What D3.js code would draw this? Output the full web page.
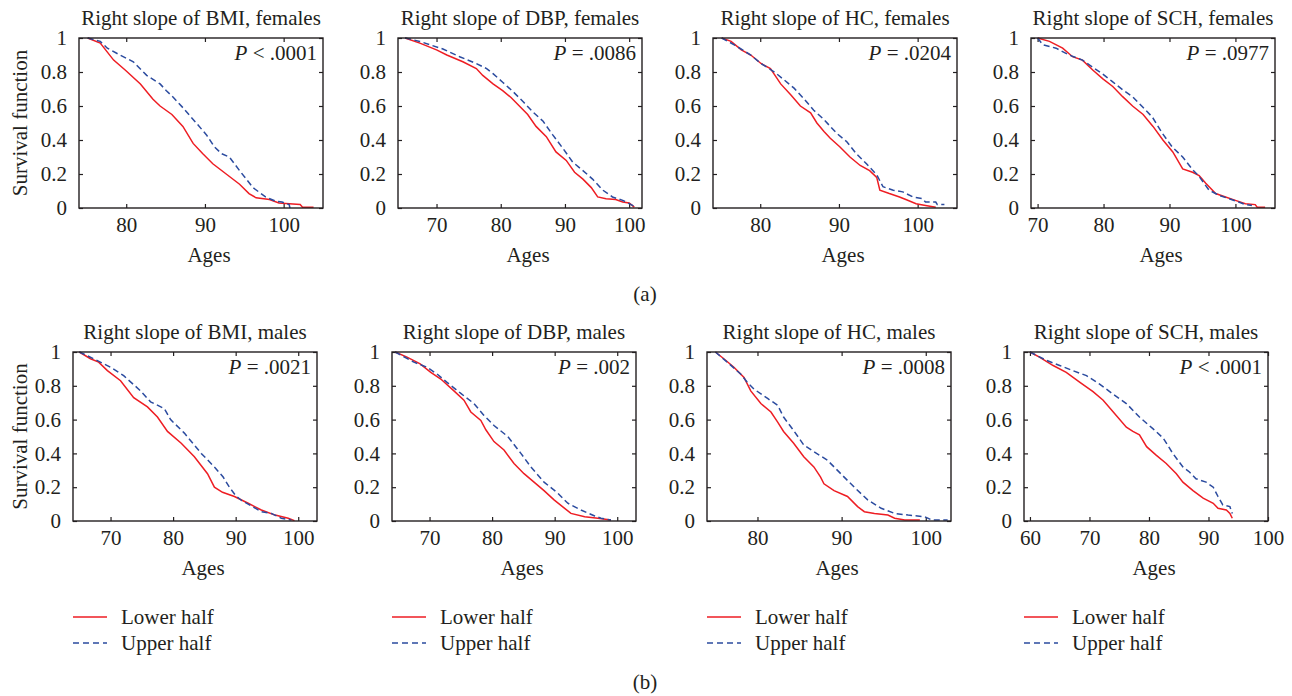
<!DOCTYPE html>
<html>
<head>
<meta http-equiv="Content-Type" content="text/html; charset=UTF-8">
<style>
body { margin: 0; background: #fff; }
text { font-family: "Liberation Serif", "Times New Roman", serif; fill: #231f20; }
</style>
</head>
<body>

<div class="container"></div>

<script src="https://cdn.jsdelivr.net/npm/d3@7/dist/d3.min.js"></script>
<script>

// Kaplan-Meier curves, [age, survival]
var bmiFemalesLower = [[75.1,1],[76.7,0.97],[78.4,0.87],[79.9,0.81],[81.8,0.73],[83.4,0.64],[84.3,0.6],[85.8,0.55],[87.2,0.48],[88.5,0.38],[89.7,0.32],[91.0,0.26],[92.7,0.2],[94.4,0.14],[95.6,0.085],[96.5,0.06],[98.2,0.05],[99.4,0.03],[100.7,0.025],[102.1,0.02],[102.4,0.005],[103.8,0.005]];
var bmiFemalesUpper = [[75.1,1],[76.7,0.98],[77.6,0.94],[79.2,0.9],[80.9,0.86],[82.6,0.78],[84.3,0.73],[85.1,0.69],[86.0,0.65],[87.2,0.59],[88.9,0.5],[90.2,0.43],[91.2,0.36],[92.1,0.32],[93.1,0.3],[94.4,0.22],[96.1,0.12],[97.7,0.065],[99.0,0.04],[99.8,0.035],[100.7,0.02],[100.8,0]];

var dbpFemalesLower = [[65.1,1],[67.4,0.97],[70.0,0.93],[71.6,0.9],[74.1,0.86],[76.2,0.82],[77.2,0.78],[78.8,0.73],[80.3,0.69],[81.6,0.65],[82.9,0.6],[84.2,0.55],[85.5,0.48],[87.1,0.42],[88.6,0.33],[90.2,0.28],[91.5,0.21],[92.8,0.17],[94.1,0.12],[95.1,0.065],[96.4,0.055],[97.9,0.05],[99.0,0.035],[100.0,0.03],[100.8,0.005]];
var dbpFemalesUpper = [[65.1,1],[67.4,0.98],[71.0,0.935],[73.6,0.89],[76.2,0.85],[77.8,0.82],[78.8,0.79],[80.3,0.74],[81.9,0.685],[83.5,0.625],[85.0,0.565],[86.6,0.51],[88.1,0.43],[89.7,0.35],[91.2,0.27],[92.8,0.22],[94.3,0.17],[95.9,0.105],[97.4,0.065],[99.0,0.045],[100.3,0.02],[101.0,0.005]];

var hcFemalesLower = [[75.1,1],[76.3,0.98],[77.6,0.93],[78.8,0.9],[80.1,0.85],[81.3,0.82],[82.6,0.73],[83.9,0.665],[85.1,0.6],[86.4,0.56],[87.2,0.5],[88.1,0.45],[88.9,0.41],[90.1,0.36],[91.4,0.3],[92.7,0.25],[93.9,0.22],[94.8,0.18],[95.2,0.105],[96.4,0.085],[97.7,0.065],[98.5,0.05],[99.8,0.025],[101.0,0.015],[102.3,0.005]];
var hcFemalesUpper = [[75.1,1],[76.7,0.96],[78.8,0.9],[80.1,0.85],[81.8,0.8],[83.0,0.755],[84.3,0.705],[85.5,0.645],[86.8,0.575],[88.1,0.52],[89.7,0.44],[91.0,0.39],[92.2,0.32],[93.5,0.26],[94.8,0.195],[95.6,0.125],[96.9,0.105],[98.1,0.095],[99.4,0.065],[100.6,0.055],[101.0,0.035],[102.3,0.035],[102.5,0.02],[103.4,0.02]];

var schFemalesLower = [[70,1],[71.8,0.98],[73.8,0.94],[75.3,0.89],[76.8,0.87],[78.4,0.81],[79.9,0.76],[81.4,0.715],[82.9,0.655],[84.4,0.6],[86.0,0.55],[87.5,0.48],[89.0,0.4],[90.5,0.33],[92.0,0.23],[93.5,0.21],[94.5,0.19],[95.5,0.145],[97.0,0.085],[98.5,0.065],[100.0,0.045],[101.5,0.025],[103.0,0.02],[103.3,0.005],[104.5,0.005]];
var schFemalesUpper = [[70,1],[70.8,0.96],[72.8,0.94],[74.8,0.9],[76.8,0.87],[78.3,0.83],[79.8,0.79],[81.3,0.745],[82.9,0.695],[84.4,0.655],[85.9,0.595],[87.4,0.535],[88.9,0.44],[90.4,0.36],[92.0,0.3],[93.4,0.23],[94.5,0.185],[96.0,0.105],[97.5,0.075],[99.0,0.055],[100.5,0.035],[101.5,0.02],[102.5,0.015]];

var bmiMalesLower = [[65,1],[66.8,0.96],[68.1,0.94],[69.5,0.89],[71.6,0.83],[73.7,0.73],[75.9,0.675],[77.5,0.615],[79.1,0.53],[81.3,0.46],[83.4,0.38],[85.5,0.28],[86.6,0.2],[87.9,0.17],[89.8,0.145],[92.0,0.105],[94.1,0.065],[96.3,0.035],[98.4,0.016],[99.4,0.002]];
var bmiMalesUpper = [[65,1],[67.3,0.96],[70.0,0.91],[72.1,0.86],[74.8,0.77],[76.4,0.705],[78.6,0.665],[79.6,0.6],[81.8,0.52],[84.5,0.4],[86.6,0.32],[88.0,0.26],[89.0,0.2],[90.0,0.15],[91.0,0.12],[92.0,0.1],[94.1,0.055],[95.7,0.045],[97.3,0.016],[98.9,0.006]];

var dbpMalesLower = [[64.5,1],[66.4,0.97],[68.5,0.93],[70.2,0.88],[71.8,0.84],[73.9,0.77],[75.5,0.715],[76.6,0.645],[78.2,0.595],[79.0,0.54],[80.3,0.47],[81.9,0.42],[83.5,0.34],[85.1,0.28],[86.7,0.23],[88.3,0.18],[89.9,0.125],[91.6,0.075],[92.6,0.045],[94.8,0.025],[96.9,0.016],[99.0,0.006]];
var dbpMalesUpper = [[64.5,1],[67.5,0.94],[69.6,0.91],[71.2,0.87],[72.8,0.82],[75.0,0.755],[77.1,0.695],[78.7,0.625],[80.3,0.565],[82.5,0.5],[84.6,0.4],[86.2,0.32],[88.3,0.23],[90.5,0.165],[92.1,0.105],[94.2,0.065],[96.4,0.03],[97.4,0.016],[99.0,0.006]];

var hcMalesLower = [[75.0,1],[76.0,0.96],[77.2,0.91],[78.4,0.85],[79.2,0.77],[80.4,0.695],[81.6,0.645],[82.4,0.585],[83.1,0.53],[84.3,0.46],[85.5,0.38],[86.7,0.32],[87.5,0.26],[87.9,0.22],[89.1,0.18],[90.7,0.145],[91.9,0.085],[92.7,0.055],[93.9,0.045],[95.5,0.035],[96.3,0.016],[97.5,0.006],[99.3,0.006]];
var hcMalesUpper = [[75.0,1],[76.4,0.94],[78.0,0.87],[78.8,0.82],[79.6,0.78],[81.2,0.725],[82.4,0.685],[83.1,0.615],[84.3,0.535],[85.5,0.45],[86.7,0.41],[88.3,0.36],[89.9,0.28],[91.5,0.2],[93.1,0.125],[94.7,0.075],[96.3,0.045],[97.9,0.035],[99.9,0.025],[100.7,0.006],[102.6,0.006]];

var schMalesLower = [[60,1],[61.6,0.97],[63.9,0.92],[66.1,0.88],[68.4,0.82],[70.6,0.765],[72.3,0.715],[74.0,0.645],[76.2,0.555],[77.3,0.53],[78.4,0.51],[79.6,0.44],[81.2,0.39],[82.9,0.34],[84.6,0.28],[85.7,0.23],[87.4,0.18],[89.1,0.135],[90.8,0.105],[91.6,0.075],[93.0,0.065],[93.6,0.045],[94.0,0.016]];
var schMalesUpper = [[60,1],[62.8,0.95],[65.0,0.92],[67.2,0.89],[69.5,0.86],[71.7,0.81],[74.0,0.75],[76.2,0.695],[78.4,0.615],[80.7,0.545],[82.4,0.49],[84.0,0.4],[85.7,0.32],[86.8,0.29],[87.9,0.25],[89.6,0.23],[90.8,0.2],[91.6,0.145],[92.4,0.095],[93.6,0.085],[94.0,0.045]];

var titles = ["Right slope of BMI, females", "Right slope of DBP, females", "Right slope of HC, females", "Right slope of SCH, females",
              "Right slope of BMI, males", "Right slope of DBP, males", "Right slope of HC, males", "Right slope of SCH, males"];
var pValues = ["< .0001", "= .0086", "= .0204", "= .0977", "= .0021", "= .002", "= .0008", "< .0001"];
var xDomains = [[74,105],[64,102],[74,105],[69,106],[64,103],[64,103],[74,103],[59,100]];
var xTickValues = [[80,90,100],[70,80,90,100],[80,90,100],[70,80,90,100],
                   [70,80,90,100],[70,80,90,100],[80,90,100],[60,70,80,90,100]];
var yTickValues = [0, 0.2, 0.4, 0.6, 0.8, 1];
var lowerSeries = [bmiFemalesLower, dbpFemalesLower, hcFemalesLower, schFemalesLower, bmiMalesLower, dbpMalesLower, hcMalesLower, schMalesLower];
var upperSeries = [bmiFemalesUpper, dbpFemalesUpper, hcFemalesUpper, schFemalesUpper, bmiMalesUpper, dbpMalesUpper, hcMalesUpper, schMalesUpper];
var legendLabels = ["Lower half", "Upper half"];

var width = 1292;
var height = 696;
var red = "#ee1d23";
var blue = "#2b4b9f";
var fontSize = "21px";

// panel boxes (screen layout)
var rows = [{ top: 38, bottom: 208 }, { top: 352, bottom: 521 }];
var lefts = [[79, 398, 713, 1031], [73, 392, 707, 1024]];
var boxW = 244;

var svg = d3.select(".container")
            .append("svg")
                .attr("width", width)
                .attr("height", height);

titles.forEach(function(title, i) {
    var r = Math.floor(i / 4), c = i % 4;
    var row = rows[r];
    var left = lefts[r][c];

    var x = d3.scaleLinear().domain(xDomains[i]).range([0, boxW]);
    var y = d3.scaleLinear().domain([0, 1]).range([row.bottom - row.top, 0]);
    var h = row.bottom - row.top;

    var g = svg.append("g").attr("transform", "translate(" + left + "," + row.top + ")");

    // axes with inward ticks on all four sides
    var bottomAxis = g.append("g").attr("transform", "translate(0," + h + ")")
        .call(d3.axisBottom(x).tickValues(xTickValues[i]).tickSizeInner(-4).tickSizeOuter(0).tickPadding(9));
    var topAxis = g.append("g")
        .call(d3.axisTop(x).tickValues(xTickValues[i]).tickSizeInner(-4).tickSizeOuter(0).tickFormat(""));
    var leftAxis = g.append("g")
        .call(d3.axisLeft(y).tickValues(yTickValues).tickSizeInner(-4).tickSizeOuter(0).tickPadding(12)
              .tickFormat(function(d) { return d === 0 || d === 1 ? d : d3.format(".1f")(d); }));
    var rightAxis = g.append("g").attr("transform", "translate(" + boxW + ",0)")
        .call(d3.axisRight(y).tickValues(yTickValues).tickSizeInner(-4).tickSizeOuter(0).tickFormat(""));

    [bottomAxis, topAxis, leftAxis, rightAxis].forEach(function(a) {
        a.select(".domain").remove();
        a.selectAll("line").attr("stroke", "#231f20").attr("stroke-width", 1.2);
        a.selectAll("text").style("font-size", fontSize).attr("fill", "#231f20");
    });

    var line = d3.line()
                 .x(function(d) { return x(d[0]); })
                 .y(function(d) { return y(d[1]); });

    g.append("path")
        .datum(lowerSeries[i])
        .attr("d", line)
        .attr("fill", "none")
        .attr("stroke", red)
        .attr("stroke-width", 1.5);

    g.append("path")
        .datum(upperSeries[i])
        .attr("d", line)
        .attr("fill", "none")
        .attr("stroke", blue)
        .attr("stroke-width", 1.5)
        .attr("stroke-dasharray", "6,3.5");

    g.append("rect")
        .attr("width", boxW)
        .attr("height", h)
        .attr("fill", "none")
        .attr("stroke", "#231f20")
        .attr("stroke-width", 1.4);

    // title
    g.append("text")
        .attr("x", boxW / 2)
        .attr("y", -13)
        .attr("text-anchor", "middle")
        .style("font-size", fontSize)
        .text(title);

    // p value
    var pt = g.append("text")
        .attr("x", boxW - 6)
        .attr("y", 22)
        .attr("text-anchor", "end")
        .style("font-size", fontSize);
    pt.append("tspan").style("font-style", "italic").text("P");
    pt.append("tspan").text(" " + pValues[i]);

    // x label
    g.append("text")
        .attr("x", boxW / 2 + 8)
        .attr("y", h + 54)
        .attr("text-anchor", "middle")
        .style("font-size", fontSize)
        .text("Ages");

    // y label, first column only
    if (c === 0) {
        g.append("text")
            .attr("transform", "translate(" + (27 - left) + "," + (h / 2) + ") rotate(-90)")
            .attr("text-anchor", "middle")
            .style("font-size", fontSize)
            .text("Survival function");
    }

    // legend below the bottom row
    if (r === 1) {
        var lg = g.append("g").attr("transform", "translate(0," + (617 - row.top) + ")");
        legendLabels.forEach(function(lab, k) {
            lg.append("line")
                .attr("x1", 0).attr("x2", 34)
                .attr("y1", k * 26).attr("y2", k * 26)
                .attr("stroke", k === 0 ? red : blue)
                .attr("stroke-width", 1.5)
                .attr("stroke-dasharray", k === 0 ? null : "6,4");
            lg.append("text")
                .attr("x", 48)
                .attr("y", k * 26)
                .attr("dy", "0.33em")
                .style("font-size", fontSize)
                .text(lab);
        });
    }
});

// sub-figure letters
svg.append("text").attr("x", 645).attr("y", 301).attr("text-anchor", "middle").style("font-size", fontSize).text("(a)");
svg.append("text").attr("x", 645).attr("y", 689).attr("text-anchor", "middle").style("font-size", fontSize).text("(b)");

</script>
</body>
</html>
